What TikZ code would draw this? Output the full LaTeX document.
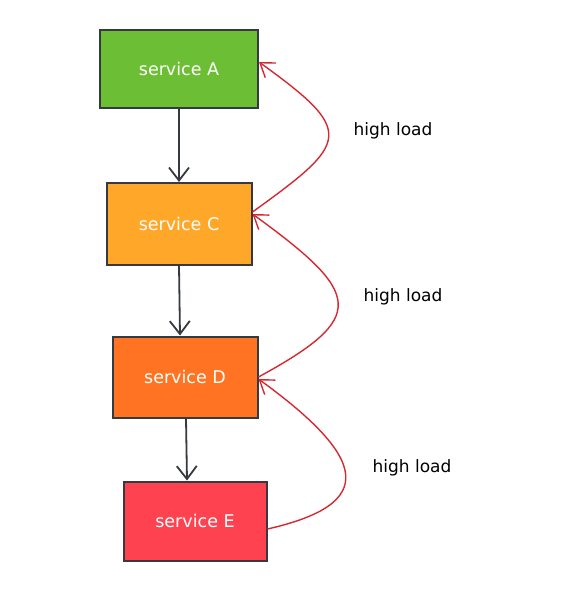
\documentclass[tikz,border=0pt]{standalone}
\usepackage{fontspec}
\setmainfont{DejaVu Sans}
\usetikzlibrary{arrows.meta,positioning}
\definecolor{strokedark}{RGB}{52, 58, 64}
\definecolor{loadred}{RGB}{214, 40, 48}
\definecolor{servicegreen}{RGB}{108, 190, 52}
\definecolor{serviceorange}{RGB}{255, 167, 40}
\definecolor{servicedeep}{RGB}{255, 115, 34}
\definecolor{servicered}{RGB}{255, 66, 80}

\begin{document}
\begin{tikzpicture}[
        x=1pt, y=-1pt,
        service/.style={draw=strokedark, line width=2pt, minimum width=145pt, minimum height=80pt, align=center, text=white, font=\fontsize{17.5}{19}\selectfont},
        arrow/.style={-{Straight Barb[length=13pt, width=20pt]}, draw=strokedark, line width=1.8pt},
        loadarrow/.style={-{Straight Barb[length=13pt, width=18pt]}, draw=loadred, line width=1.4pt},
        loadlabel/.style={font=\fontsize{17}{19}\selectfont}
    ]
        \useasboundingbox (0, 0) rectangle (579, 612);

        % Services
        \node[service, fill=servicegreen, minimum width=158pt, minimum height=78pt] (svcA) at (179, 69) {service A};

        \node[service, fill=serviceorange, minimum height=82pt] (svcC) at (179, 224) {service C};

        \node[service, fill=servicedeep, minimum height=81pt] (svcD) at (185, 377) {service D};

        \node[service, fill=servicered, minimum width=143pt, minimum height=79pt] (svcE) at (195, 521) {service E};

        % Arrows - call chain
        \draw[arrow] (svcA) -- (svcC);
        \draw[arrow] (svcC.south) -- ([xshift=-5pt]svcD.north);
        \draw[arrow] ([xshift=1pt]svcD.south) -- ([xshift=-8pt]svcE.north);

        % Arrows - high load
        \draw[loadarrow] ([yshift=12pt]svcC.east) .. controls +(97, -70) and +(97, 70) .. ([yshift=7pt]svcA.east);
        \draw[loadarrow] (svcD.east) .. controls +(110, -60) and +(110, 80) .. ([yshift=10pt]svcC.east);
        \draw[loadarrow] ([yshift=-8pt]svcE.east) .. controls +(110, -25) and +(110, 80) .. ([yshift=-2pt]svcD.east);

        % Labels
        \node[loadlabel] (loadAC) at (393, 131) {high load};
        \node[loadlabel] (loadCD) at (403, 297) {high load};
        \node[loadlabel] (loadDE) at (412, 468) {high load};
    \end{tikzpicture}
\end{document}
